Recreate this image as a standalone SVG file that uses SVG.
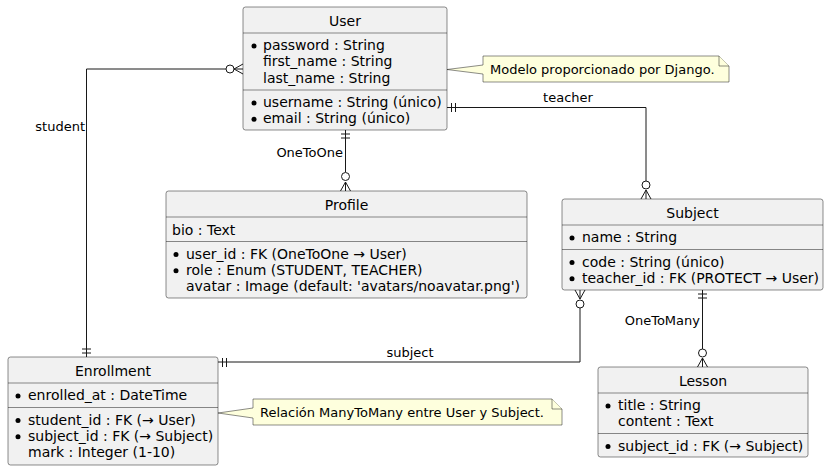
<svg xmlns="http://www.w3.org/2000/svg" width="830" height="471" viewBox="0 0 830 471">
<style>
.box{fill:#F1F1F1;stroke:#181818;stroke-width:0.5}
.sep{stroke:#181818;stroke-width:0.5}
.t{font-family:"DejaVu Sans","Noto Sans",sans-serif;font-size:14px;fill:#000}
.ttl{text-anchor:middle}
.lbl{font-family:"DejaVu Sans","Noto Sans",sans-serif;font-size:13px;fill:#000}
.end{text-anchor:end}
.mid{text-anchor:middle}
.b{fill:#000}
.conn{stroke:#181818;stroke-width:1;fill:none}
.circ{fill:#fff;stroke:#181818;stroke-width:1}
.note{fill:#FEFFDD;stroke:#181818;stroke-width:0.5}
</style>
<rect width="830" height="471" fill="#fff"/>

<g id="connectors">
  <!-- student: User -> Enrollment -->
  <path class="conn" d="M226,69 H86.5 V357"/>
  <circle class="circ" cx="230" cy="69" r="4"/>
  <path class="conn" d="M243,64 L234,69 L243,74 M234,69 H243"/>
  <path class="conn" d="M82,349 H91 M82,353 H91"/>
  <text class="lbl end" x="85" y="131">student</text>

  <!-- OneToOne: User -> Profile -->
  <path class="conn" d="M345.5,130 V172"/>
  <circle class="circ" cx="345.5" cy="176.5" r="4"/>
  <path class="conn" d="M340.5,191 L345.5,182 L350.5,191 M345.5,182 V191"/>
  <path class="conn" d="M341,134 H350 M341,138 H350"/>
  <text class="lbl end" x="343" y="157">OneToOne</text>

  <!-- teacher: User -> Subject -->
  <path class="conn" d="M447,107.5 H646 V181"/>
  <circle class="circ" cx="646" cy="185" r="4"/>
  <path class="conn" d="M641,199 L646,190 L651,199 M646,190 V199"/>
  <path class="conn" d="M451.5,103 V112 M455.5,103 V112"/>
  <text class="lbl mid" x="568" y="102">teacher</text>

  <!-- OneToMany: Subject -> Lesson -->
  <path class="conn" d="M702.5,290 V349"/>
  <circle class="circ" cx="702.5" cy="353" r="4"/>
  <path class="conn" d="M697.5,367 L702.5,358 L707.5,367 M702.5,358 V367"/>
  <path class="conn" d="M698,294 H707 M698,298 H707"/>
  <text class="lbl end" x="700" y="325">OneToMany</text>

  <!-- subject: Subject -> Enrollment -->
  <path class="conn" d="M580,308 V362 H218"/>
  <circle class="circ" cx="580" cy="304" r="4"/>
  <path class="conn" d="M575,290 L580,299 L585,290 M580,290 V299"/>
  <path class="conn" d="M222.5,358 V367 M226.5,358 V367"/>
  <text class="lbl mid" x="410" y="357">subject</text>
</g>

<g id="User">
  <rect class="box" x="243" y="7" width="204" height="123" rx="2.5"/>
  <text class="t ttl" x="345" y="26">User</text>
  <line class="sep" x1="243" y1="33" x2="447" y2="33"/>
  <circle class="b" cx="254" cy="46" r="2.5"/>
  <text class="t" x="263" y="50">password : String</text>
  <text class="t" x="263" y="66.3">first_name : String</text>
  <text class="t" x="263" y="82.6">last_name : String</text>
  <line class="sep" x1="243" y1="90" x2="447" y2="90"/>
  <circle class="b" cx="254" cy="103" r="2.5"/>
  <text class="t" x="263" y="107">username : String (único)</text>
  <circle class="b" cx="254" cy="119.3" r="2.5"/>
  <text class="t" x="263" y="123.3">email : String (único)</text>
</g>

<g id="note-django">
  <path class="note" d="M483,56 H719 L729,66 V82 H483 V74 L447,69.5 L483,65 Z"/>
  <path class="note" d="M719,56 V66 H729" fill="none"/>
  <text class="lbl" x="490" y="74">Modelo proporcionado por Django.</text>
</g>

<g id="Profile">
  <rect class="box" x="166" y="191" width="361" height="107" rx="2.5"/>
  <text class="t ttl" x="346.5" y="210">Profile</text>
  <line class="sep" x1="166" y1="217" x2="527" y2="217"/>
  <text class="t" x="172" y="234.5">bio : Text</text>
  <line class="sep" x1="166" y1="241.5" x2="527" y2="241.5"/>
  <circle class="b" cx="176" cy="254.5" r="2.5"/>
  <text class="t" x="186" y="258.5">user_id : FK (OneToOne → User)</text>
  <circle class="b" cx="176" cy="270.8" r="2.5"/>
  <text class="t" x="186" y="274.8">role : Enum (STUDENT, TEACHER)</text>
  <text class="t" x="186" y="291.1">avatar : Image (default: 'avatars/noavatar.png')</text>
</g>

<g id="Subject">
  <rect class="box" x="562" y="199" width="261" height="91" rx="2.5"/>
  <text class="t ttl" x="692.5" y="218">Subject</text>
  <line class="sep" x1="562" y1="225" x2="823" y2="225"/>
  <circle class="b" cx="572" cy="238" r="2.5"/>
  <text class="t" x="582" y="242">name : String</text>
  <line class="sep" x1="562" y1="249.5" x2="823" y2="249.5"/>
  <circle class="b" cx="572" cy="262.5" r="2.5"/>
  <text class="t" x="582" y="266.5">code : String (único)</text>
  <circle class="b" cx="572" cy="278.8" r="2.5"/>
  <text class="t" x="582" y="282.8">teacher_id : FK (PROTECT → User)</text>
</g>

<g id="Lesson">
  <rect class="box" x="598" y="367" width="210" height="90" rx="2.5"/>
  <text class="t ttl" x="703" y="386">Lesson</text>
  <line class="sep" x1="598" y1="393" x2="808" y2="393"/>
  <circle class="b" cx="608" cy="406" r="2.5"/>
  <text class="t" x="618" y="410">title : String</text>
  <text class="t" x="618" y="426.3">content : Text</text>
  <line class="sep" x1="598" y1="433.5" x2="808" y2="433.5"/>
  <circle class="b" cx="608" cy="446.5" r="2.5"/>
  <text class="t" x="618" y="450.5">subject_id : FK (→ Subject)</text>
</g>

<g id="Enrollment">
  <rect class="box" x="8" y="357" width="210" height="108" rx="2.5"/>
  <text class="t ttl" x="113" y="376">Enrollment</text>
  <line class="sep" x1="8" y1="383" x2="218" y2="383"/>
  <circle class="b" cx="18" cy="396" r="2.5"/>
  <text class="t" x="28" y="400">enrolled_at : DateTime</text>
  <line class="sep" x1="8" y1="407.5" x2="218" y2="407.5"/>
  <circle class="b" cx="18" cy="420.5" r="2.5"/>
  <text class="t" x="28" y="424.5">student_id : FK (→ User)</text>
  <circle class="b" cx="18" cy="436.8" r="2.5"/>
  <text class="t" x="28" y="440.8">subject_id : FK (→ Subject)</text>
  <text class="t" x="28" y="457.1">mark : Integer (1-10)</text>
</g>

<g id="note-manytomany">
  <path class="note" d="M253,399 H552 L562,409 V425 H253 V418 L218,413 L253,408 Z"/>
  <path class="note" d="M552,399 V409 H562" fill="none"/>
  <text class="lbl" x="260" y="417">Relación ManyToMany entre User y Subject.</text>
</g>
</svg>
